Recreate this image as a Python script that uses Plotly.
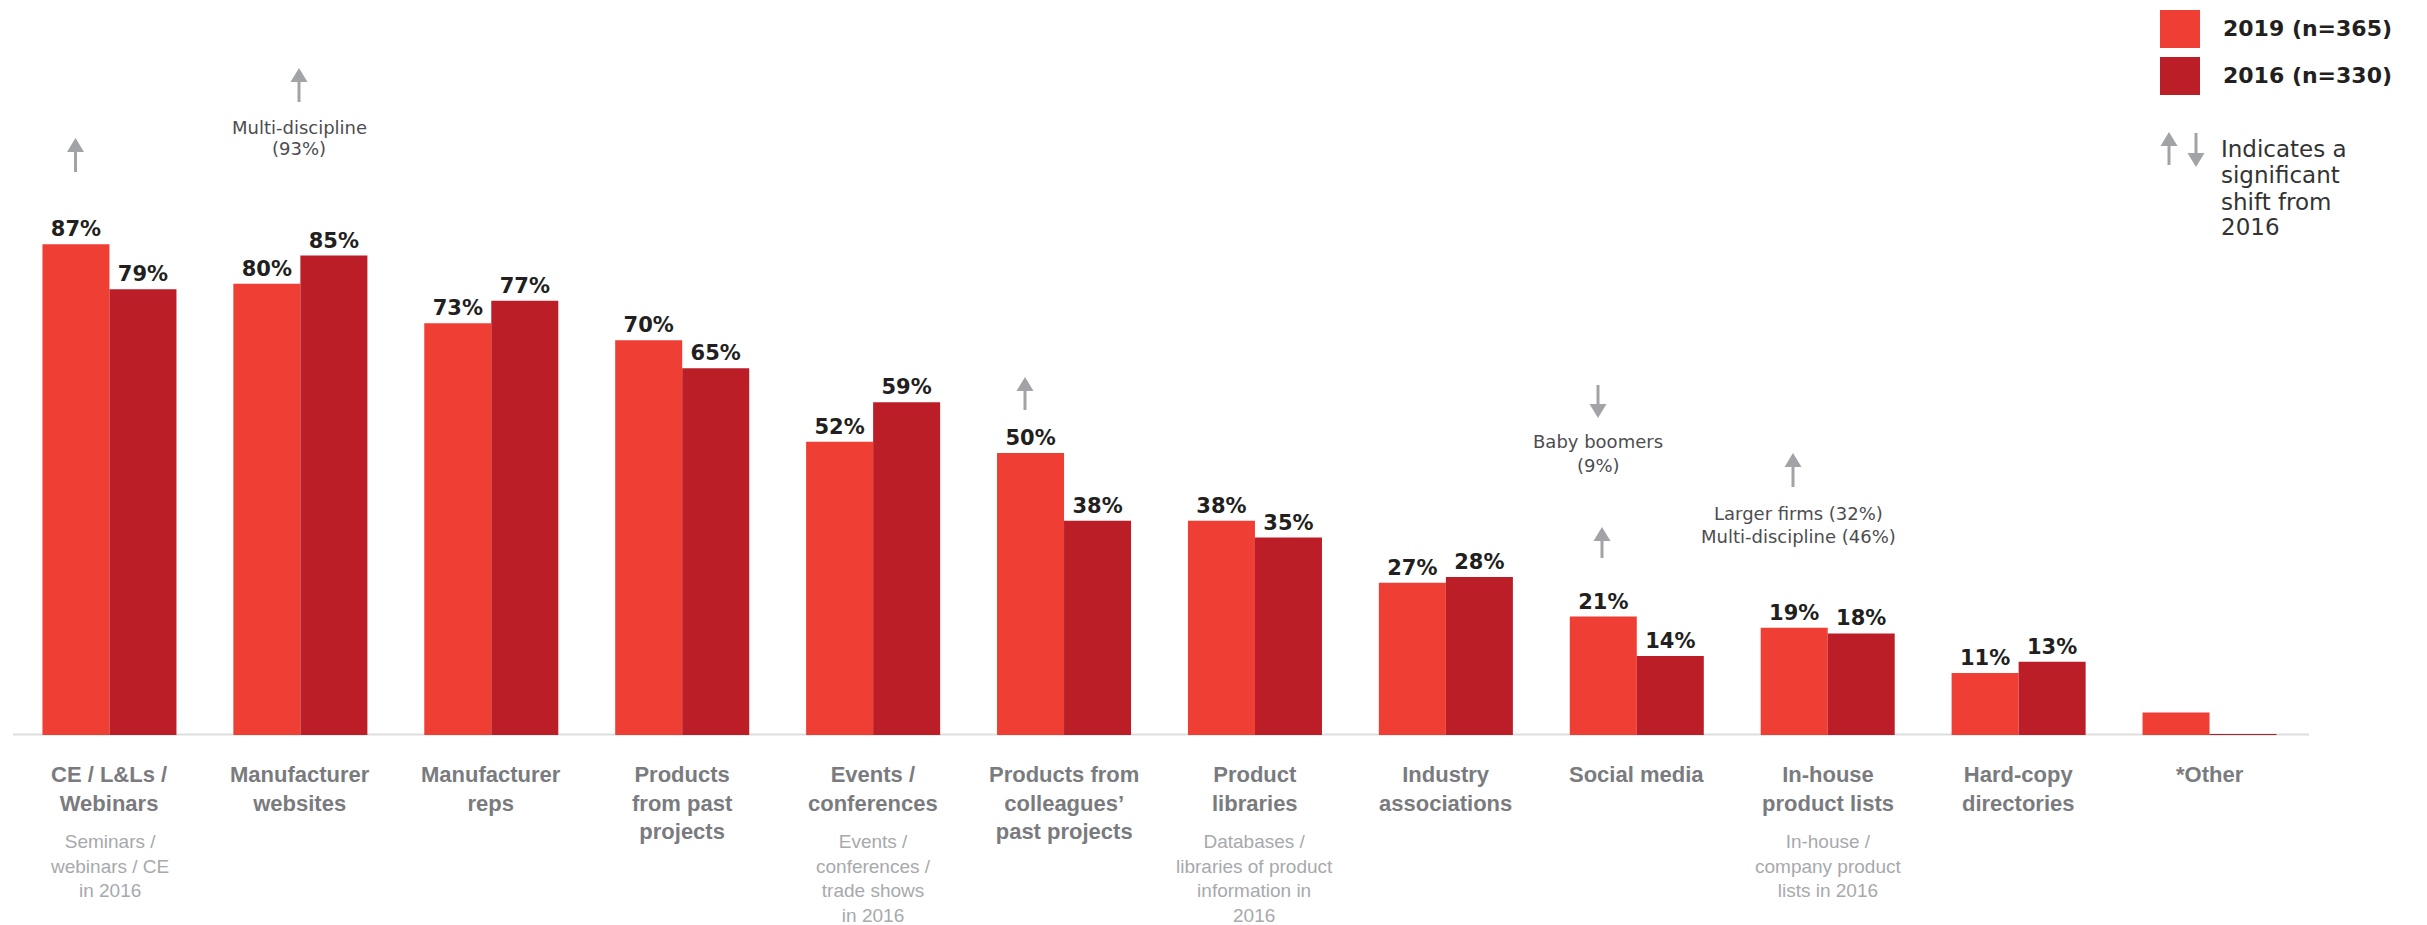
import plotly.graph_objects as go

# Information sources used by specifiers, share of respondents (%)
categories = [
    "CE / L&amp;Ls /<br>Webinars",
    "Manufacturer<br>websites",
    "Manufacturer<br>reps",
    "Products<br>from past<br>projects",
    "Events /<br>conferences",
    "Products from<br>colleagues’<br>past projects",
    "Product<br>libraries",
    "Industry<br>associations",
    "Social media",
    "In-house<br>product lists",
    "Hard-copy<br>directories",
    "*Other",
]
sublabels = [
    "Seminars /<br>webinars / CE<br>in 2016",
    "",
    "",
    "",
    "Events /<br>conferences /<br>trade shows<br>in 2016",
    "",
    "Databases /<br>libraries of product<br>information in<br>2016",
    "",
    "",
    "In-house /<br>company product<br>lists in 2016",
    "",
    "",
]
values_2019 = [87, 80, 73, 70, 52, 50, 38, 27, 21, 19, 11, 4]
values_2016 = [79, 85, 77, 65, 59, 38, 35, 28, 14, 18, 13, 0.15]
labelled = [True] * 11 + [False]

name_2019 = "2019 (n=365)"
name_2016 = "2016 (n=330)"

C2019 = "#ef3e33"
C2016 = "#bb1e27"
ARROW = "#a2a3a6"
NOTE = "#4d4d4f"
INK = "#231f20"

W, H = 2427, 925
ML, MR, MT, MB = 14, 122, 0, 190
PW, PH = W - ML - MR, H - MT - MB
YMAX = 130.3
UNIT = PW / 12.0  # pixels per category


def pxx(x):
    return (x - ML) / PW


def pxy(y):
    return (H - MB - y) / PH


def dx(x):
    # pixel x -> category axis units
    return (x - ML) / UNIT - 0.5


xs = list(range(len(categories)))


def bar_text(vals):
    return [f"{v:g}%" if show else "" for v, show in zip(vals, labelled)]


fig = go.Figure()
for name, vals, col in [(name_2019, values_2019, C2019), (name_2016, values_2016, C2016)]:
    fig.add_trace(go.Bar(
        x=xs, y=vals, name=name, marker=dict(color=col, line=dict(width=0)),
        text=bar_text(vals), textposition="outside", constraintext="none",
        cliponaxis=False,
        textfont=dict(family="DejaVu Sans", size=21, color=INK, weight="bold"),
        showlegend=False, hoverinfo="skip",
    ))

shapes = []
annotations = []

# baseline
shapes.append(dict(type="line", xref="paper", yref="paper", x0=pxx(13), x1=pxx(2309),
                   y0=pxy(734.5), y1=pxy(734.5), line=dict(color="#dedede", width=2), layer="below"))


def arrow(x, tip, tail, xref="x"):
    if xref == "x":
        hw = 8.5 / UNIT
    else:
        hw = 8.5 / PW
    head = 14
    up = tail > tip
    base = tip + head if up else tip - head
    shapes.append(dict(type="line", xref=xref, yref="paper", x0=x, x1=x,
                       y0=pxy(tail), y1=pxy(base - 1 if up else base + 1),
                       line=dict(color=ARROW, width=3)))
    path = f"M{x - hw},{pxy(base)} L{x + hw},{pxy(base)} L{x},{pxy(tip)} Z"
    shapes.append(dict(type="path", xref=xref, yref="paper", path=path,
                       fillcolor=ARROW, line=dict(width=0)))


def note(x, y, text, size=18, color=NOTE, xref="x", xanchor="center", family="DejaVu Sans", bold=False):
    annotations.append(dict(
        x=x, y=pxy(y), xref=xref, yref="paper", text=text, showarrow=False,
        xanchor=xanchor, yanchor="middle",
        font=dict(family=family, size=size, color=color, weight="bold" if bold else "normal"),
    ))


# significance arrows and notes
arrow(dx(75.5), 138, 172)
arrow(dx(299), 68, 102)
note(dx(299), 127, "Multi-discipline")
note(dx(299), 148, "(93%)")
arrow(dx(1025), 377, 410)
arrow(dx(1598), 418, 385)
note(dx(1598), 442, "Baby boomers")
note(dx(1598), 465, "(9%)")
arrow(dx(1602), 527, 558)
arrow(dx(1793), 453, 487)
note(dx(1798), 513, "Larger firms (32%)")
note(dx(1798), 536, "Multi-discipline (46%)")

# category labels
for i, (lab, sub) in enumerate(zip(categories, sublabels)):
    annotations.append(dict(
        x=i, y=pxy(760), xref="x", yref="paper", text=lab, showarrow=False,
        xanchor="center", yanchor="top", align="center",
        font=dict(family="Liberation Sans", size=22, color="#7a7b7e", weight="bold"),
    ))
    if sub:
        annotations.append(dict(
            x=i, y=pxy(829), xref="x", yref="paper", text=sub, showarrow=False,
            xanchor="center", yanchor="top", align="center",
            font=dict(family="Liberation Sans", size=19, color="#a7a9ac"),
        ))

# legend
for (y0, y1), col, name, yc in [((10, 48), C2019, name_2019, 29), ((57, 95), C2016, name_2016, 76)]:
    shapes.append(dict(type="rect", xref="paper", yref="paper", x0=pxx(2160), x1=pxx(2200),
                       y0=pxy(y1), y1=pxy(y0), fillcolor=col, line=dict(width=0)))
    note(pxx(2221), yc, name, size=22, color=INK, xref="paper", xanchor="left", bold=True)

arrow(pxx(2169), 132, 165, xref="paper")
arrow(pxx(2196), 167, 133, xref="paper")
for yc, line in zip([149, 175, 202, 227], ["Indicates a", "significant", "shift from", "2016"]):
    note(pxx(2219), yc, line, size=23, color="#333333", xref="paper", xanchor="left")

fig.update_layout(
    width=W, height=H, autosize=False,
    margin=dict(l=ML, r=MR, t=MT, b=MB, pad=0),
    paper_bgcolor="white", plot_bgcolor="white",
    barmode="group", bargap=0.298, bargroupgap=0,
    xaxis=dict(range=[-0.5, 11.5], showticklabels=False, showgrid=False, zeroline=False,
               showline=False, ticks="", fixedrange=True),
    yaxis=dict(range=[0, YMAX], showticklabels=False, showgrid=False, zeroline=False,
               showline=False, ticks="", fixedrange=True),
    shapes=shapes, annotations=annotations,
    font=dict(family="DejaVu Sans"),
)

fig.write_html("out.html")
